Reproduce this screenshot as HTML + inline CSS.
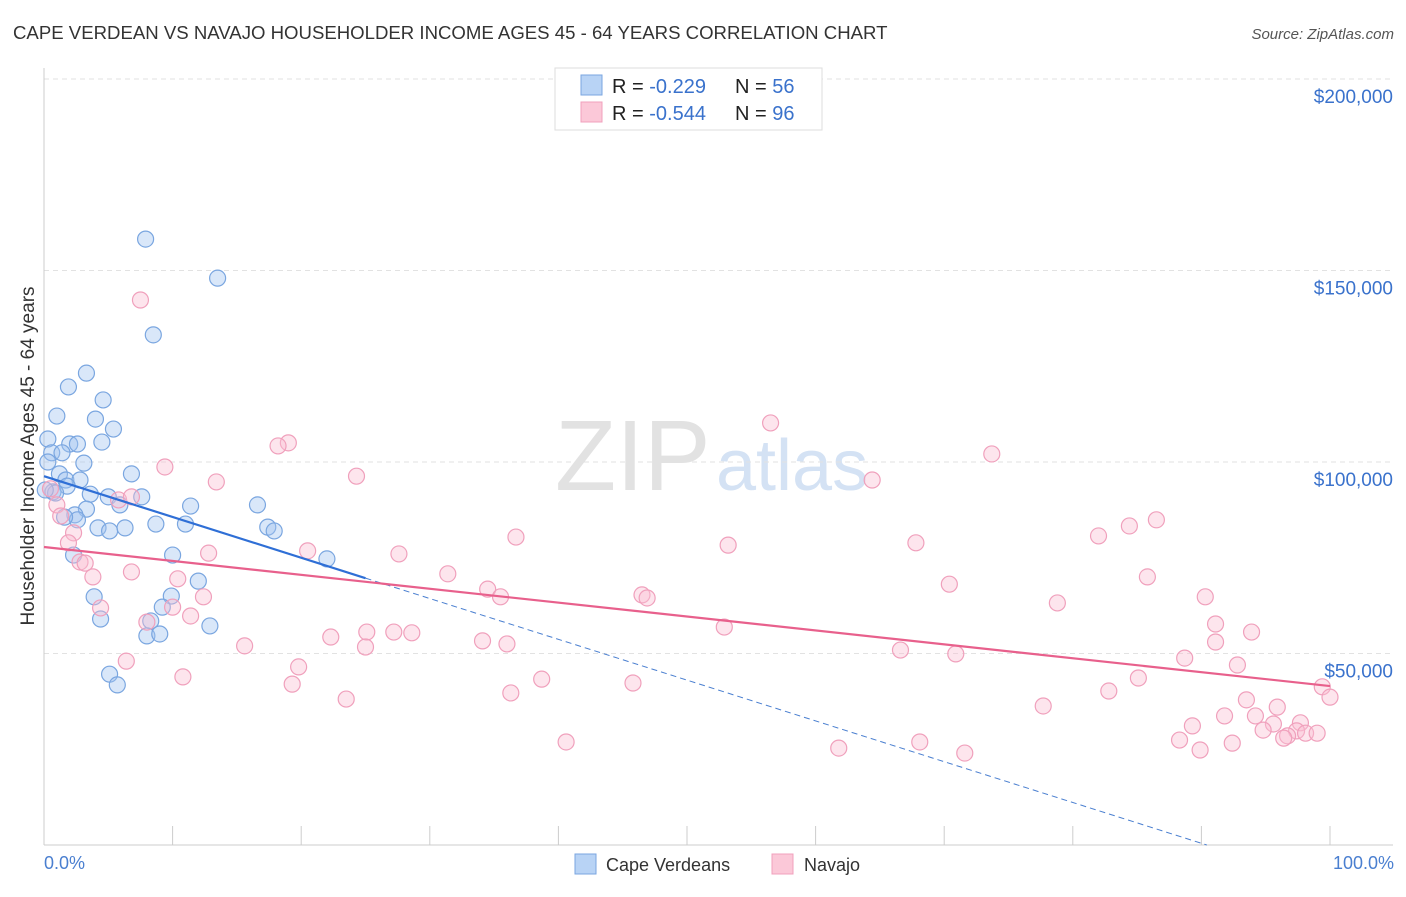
<!DOCTYPE html>
<html><head><meta charset="utf-8">
<style>
body{margin:0;background:#fff;font-family:"Liberation Sans",sans-serif;}
svg text{font-family:"Liberation Sans",sans-serif;}
</style></head>
<body>
<svg id="chart" width="1406" height="892">
<text x="13" y="39" font-size="18.6" fill="#333">CAPE VERDEAN VS NAVAJO HOUSEHOLDER INCOME AGES 45 - 64 YEARS CORRELATION CHART</text>
<text x="1394" y="39" font-size="15" fill="#555" font-style="italic" text-anchor="end">Source: ZipAtlas.com</text>
<text x="555" y="490" font-size="100" fill="#e2e2e2" font-family="Liberation Serif">ZIP</text>
<text x="716" y="490" font-size="72" fill="#d4e2f4">atlas</text>
<g id="grid"></g>
<g id="marks"></g>
<text transform="translate(34,456) rotate(-90)" font-size="19" fill="#333" text-anchor="middle">Householder Income Ages 45 - 64 years</text>
<text x="44" y="869" font-size="18" fill="#4a7fd0">0.0%</text>
<text x="1394" y="869" font-size="18" fill="#4a7fd0" text-anchor="end">100.0%</text>
<g>
<rect x="555" y="68" width="267" height="62" fill="#fff" stroke="#ddd"/>
<rect x="581" y="75" width="21" height="20" fill="#b8d3f5" stroke="#7aa6e0"/>
<rect x="581" y="102" width="21" height="20" fill="#fbc8d8" stroke="#f0a0bc"/>
<text x="612" y="93" font-size="20" fill="#222">R = <tspan fill="#3a72cc"> -0.229</tspan></text>
<text x="735" y="93" font-size="20" fill="#222">N = <tspan fill="#3a72cc">56</tspan></text>
<text x="612" y="120" font-size="20" fill="#222">R = <tspan fill="#3a72cc">-0.544</tspan></text>
<text x="735" y="120" font-size="20" fill="#222">N = <tspan fill="#3a72cc">96</tspan></text>
</g>
<g>
<rect x="575" y="854" width="21" height="20" fill="#b8d3f5" stroke="#7aa6e0"/>
<text x="606" y="871" font-size="18" fill="#333">Cape Verdeans</text>
<rect x="772" y="854" width="21" height="20" fill="#fbc8d8" stroke="#f0a0bc"/>
<text x="804" y="871" font-size="18" fill="#333">Navajo</text>
</g>
</svg>
<script>
const yTicks=[50000,100000,150000,200000];
const yTickLabels=["$50,000","$100,000","$150,000","$200,000"];
const xTicks=[0,10,20,30,40,50,60,70,80,90,100];
const blueX=[7.9,13.5,8.5,3.3,1.9,4.6,1.0,4.0,5.4,0.3,2.0,2.6,4.5,0.6,1.4,0.3,3.1,6.8,1.2,1.7,2.8,1.8,0.7,3.6,5.0,7.6,5.9,11.4,16.6,3.3,2.4,2.6,1.6,4.2,5.1,6.3,8.7,11.0,17.4,17.9,10.0,2.3,22.0,12.0,9.9,3.9,9.2,4.4,8.3,12.9,8.0,9.0,5.1,5.7,0.9,0.1];
const blueY=[158200,148000,133200,123200,119600,116200,112000,111200,108600,106000,104700,104700,105200,102400,102400,100000,99700,96900,96900,95300,95300,93700,92200,91600,90900,90900,88800,88500,88800,87700,86200,84900,85600,82800,82000,82800,83800,83800,83000,82000,75700,75700,74700,68900,65000,64800,62100,59000,58500,57200,54600,55100,44600,41800,91900,92700];
const pinkX=[7.5,56.5,19.0,18.2,73.7,9.4,24.3,64.4,13.4,0.5,5.8,6.8,1.0,86.5,84.4,1.3,82.0,36.7,53.2,67.8,2.3,1.9,12.8,20.5,27.6,2.8,3.2,6.8,3.8,10.4,85.8,31.4,70.4,34.5,35.5,46.5,46.9,90.3,12.4,4.4,10.0,78.8,11.4,8.0,91.1,52.9,27.2,25.1,28.6,93.9,22.3,25.0,34.1,36.0,15.6,91.1,66.6,70.9,88.7,92.8,19.8,6.4,10.8,19.3,38.7,45.8,85.1,99.4,82.8,36.3,23.5,100,93.5,77.7,95.9,91.8,94.2,89.3,95.6,97.7,94.8,97.4,98.1,99.0,96.7,96.4,88.3,92.4,40.6,68.1,61.8,89.9,71.6];
const pinkY=[142300,110200,105000,104200,102100,98700,96300,95300,94800,93000,90100,90900,88800,84900,83300,85900,80700,80400,78300,78900,81500,78900,76200,76800,76000,73900,73600,71300,70000,69500,70000,70800,68100,66800,64800,65300,64500,64800,64800,61900,62100,63200,59800,58200,57700,56900,55600,55600,55400,55600,54300,51700,53300,52500,52000,53000,50900,49900,48800,47000,46500,48000,43900,42000,43300,42300,43600,41300,40200,39700,38100,38600,37900,36300,36000,33700,33700,31100,31600,31900,30000,29800,29200,29200,28500,27900,27400,26600,26900,26900,25300,24800,24000];
const blueFit=[96300,-1065];
const blueSolidEnd=25;
const pinkFit=[77800,-363];
const NS="http://www.w3.org/2000/svg";
const xs=p=>44+p*12.86;
const ys=v=>845-v/50000*191.5;
const grid=document.getElementById('grid'),marks=document.getElementById('marks');
function mk(tag,at,parent){const e=document.createElementNS(NS,tag);for(const k in at)e.setAttribute(k,at[k]);parent.appendChild(e);return e;}
yTicks.forEach((t,i)=>{
 const l=mk('line',{x1:44,x2:1393,y1:ys(t),y2:ys(t),stroke:'#e2e2e2','stroke-dasharray':'5,4'},grid);
 
 
 const tx=mk('text',{x:1393,y:ys(t)+24,'font-size':19,fill:'#3a72cc','text-anchor':'end'},grid);
 tx.textContent=yTickLabels[i];
 
 
});
const ax=mk('line',{x1:44,x2:1393,y1:845,y2:845,stroke:'#ccc'},grid);


const ay=mk('line',{x1:44,x2:44,y1:68,y2:845,stroke:'#ccc'},grid);


xTicks.forEach(t=>{
 const l=mk('line',{x1:xs(t),x2:xs(t),y1:826,y2:845,stroke:'#ccc'},grid);
 
 
});
blueX.forEach((x,i)=>{
 const c=mk('circle',{cx:xs(x),cy:ys(blueY[i]),r:8,fill:'rgba(160,195,240,0.4)',stroke:'#7aa6e0','stroke-width':1.2},marks);
 
 
});
pinkX.forEach((x,i)=>{
 const c=mk('circle',{cx:xs(x),cy:ys(pinkY[i]),r:8,fill:'rgba(250,190,210,0.4)',stroke:'#f0a0bc','stroke-width':1.2},marks);
 
 
});
const bf=p=>blueFit[0]+blueFit[1]*p;
const bZero=-blueFit[0]/blueFit[1];
const bl=mk('line',{x1:xs(0),y1:ys(bf(0)),x2:xs(blueSolidEnd),y2:ys(bf(blueSolidEnd)),stroke:'#2f6fd6','stroke-width':2.2},marks);


const bd=mk('line',{x1:xs(blueSolidEnd),y1:ys(bf(blueSolidEnd)),x2:xs(bZero),y2:ys(0),stroke:'#4a7fd0','stroke-width':1,'stroke-dasharray':'6,4'},marks);


const pl=mk('line',{x1:xs(0),y1:ys(pinkFit[0]),x2:xs(100),y2:ys(pinkFit[0]+pinkFit[1]*100),stroke:'#e8608c','stroke-width':2.2},marks);


</script>
</body></html>
